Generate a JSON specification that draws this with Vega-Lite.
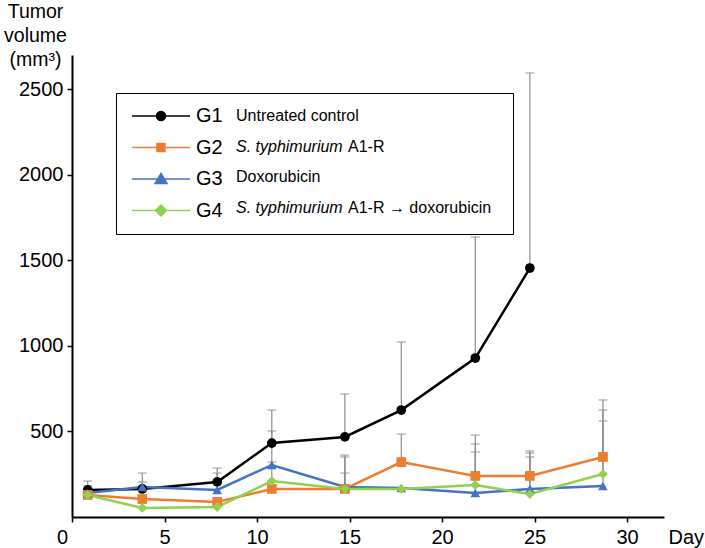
{
  "$schema": "https://vega.github.io/schema/vega-lite/v6.json",
  "autosize": "none",
  "width": 592,
  "height": 462,
  "padding": {"left": 72, "top": 55, "right": 41, "bottom": 31},
  "config": {
    "view": {"stroke": null},
    "font": "Liberation Sans",
    "axis": {
      "grid": false,
      "domainColor": "#000000",
      "domainWidth": 2,
      "tickColor": "#000000",
      "tickWidth": 1.5,
      "tickSize": 5,
      "labelFontSize": 20,
      "labelColor": "#000000",
      "titleColor": "#000000",
      "titleFontWeight": "normal"
    },
    "legend": {"labelColor": "#000000", "labelFont": "Liberation Sans"}
  },
  "resolve": {"legend": {"color": "independent"}},
  "datasets": {
    "tumor": [
      {"day": 0.85, "group": "G1", "vol": 158, "top": 210},
      {"day": 3.8, "group": "G1", "vol": 164, "top": 205},
      {"day": 7.85, "group": "G1", "vol": 205, "top": 286},
      {"day": 10.8, "group": "G1", "vol": 432, "top": 625},
      {"day": 14.75, "group": "G1", "vol": 468, "top": 719},
      {"day": 17.8, "group": "G1", "vol": 625, "top": 1023},
      {"day": 21.8, "group": "G1", "vol": 929, "top": 1636},
      {"day": 24.75, "group": "G1", "vol": 1455, "top": 2595},
      {"day": 0.85, "group": "G2", "vol": 129, "top": null},
      {"day": 3.8, "group": "G2", "vol": 105, "top": null},
      {"day": 7.85, "group": "G2", "vol": 88, "top": null},
      {"day": 10.8, "group": "G2", "vol": 164, "top": null},
      {"day": 14.75, "group": "G2", "vol": 164, "top": 362},
      {"day": 17.8, "group": "G2", "vol": 321, "top": 485},
      {"day": 21.8, "group": "G2", "vol": 240, "top": 479},
      {"day": 24.75, "group": "G2", "vol": 240, "top": 386},
      {"day": 28.7, "group": "G2", "vol": 351, "top": 684},
      {"day": 0.85, "group": "G3", "vol": 140, "top": 181},
      {"day": 3.8, "group": "G3", "vol": 175, "top": 257},
      {"day": 7.85, "group": "G3", "vol": 158, "top": 257},
      {"day": 10.8, "group": "G3", "vol": 304, "top": 321},
      {"day": 14.75, "group": "G3", "vol": 175, "top": 351},
      {"day": 17.8, "group": "G3", "vol": 169, "top": null},
      {"day": 21.8, "group": "G3", "vol": 140, "top": 380},
      {"day": 24.75, "group": "G3", "vol": 164, "top": 374},
      {"day": 28.7, "group": "G3", "vol": 181, "top": 561},
      {"day": 0.85, "group": "G4", "vol": 129, "top": null},
      {"day": 3.8, "group": "G4", "vol": 53, "top": null},
      {"day": 7.85, "group": "G4", "vol": 58, "top": null},
      {"day": 10.8, "group": "G4", "vol": 210, "top": 503},
      {"day": 14.75, "group": "G4", "vol": 164, "top": 257},
      {"day": 17.8, "group": "G4", "vol": 164, "top": null},
      {"day": 21.8, "group": "G4", "vol": 187, "top": 427},
      {"day": 24.75, "group": "G4", "vol": 134, "top": 351},
      {"day": 28.7, "group": "G4", "vol": 251, "top": 625}
    ],
    "legendKeys": [
      {"d": "D1", "s": "S1"},
      {"d": "D2", "s": "S2"},
      {"d": "D3", "s": "S3"},
      {"d": "D4", "s": "S4"}
    ]
  },
  "encoding": {
    "x": {
      "field": "day",
      "type": "quantitative",
      "scale": {"domain": [0, 32], "nice": false, "zero": false},
      "axis": {
        "values": [0, 5, 10, 15, 20, 25, 30],
        "labelFlush": false,
        "labelPadding": 5,
        "labelOffset": {"condition": {"test": "datum.value == 0", "value": -10}, "value": 0},
        "title": "Day",
        "titleFontSize": 20,
        "titleAlign": "left",
        "titleBaseline": "alphabetic",
        "titleAnchor": "start",
        "titleX": 596,
        "titleY": 26
      }
    },
    "y": {
      "field": "vol",
      "type": "quantitative",
      "scale": {"domain": [0, 2700], "nice": false},
      "axis": {
        "values": [500, 1000, 1500, 2000, 2500],
        "format": "d",
        "labelPadding": 4,
        "title": ["Tumor", "volume", "(mm³)"],
        "titleAngle": 0,
        "titleAlign": "center",
        "titleBaseline": "alphabetic",
        "titleFontSize": 19.5,
        "titleLineHeight": 24,
        "titleX": -37,
        "titleY": -38
      }
    }
  },
  "layer": [
    {
      "data": {"name": "tumor"},
      "transform": [{"filter": "datum.top != null"}],
      "mark": {"type": "rule", "color": "#8c8c8c", "strokeWidth": 1.2},
      "encoding": {"y2": {"field": "top"}}
    },
    {
      "data": {"name": "tumor"},
      "transform": [{"filter": "datum.top != null"}],
      "mark": {"type": "tick", "orient": "horizontal", "color": "#8c8c8c", "size": 9, "thickness": 1.3},
      "encoding": {"y": {"field": "top", "type": "quantitative"}}
    },
    {
      "data": {"name": "tumor"},
      "mark": {"type": "line", "strokeWidth": 2.5},
      "encoding": {
        "color": {
          "field": "group",
          "type": "nominal",
          "scale": {"domain": ["G1", "G2", "G3", "G4"], "range": ["#000000", "#ED7D31", "#4472C4", "#92D050"]},
          "legend": null
        }
      }
    },
    {
      "data": {"name": "tumor"},
      "mark": {"type": "point", "filled": true, "opacity": 1, "size": 95, "strokeWidth": 0},
      "encoding": {
        "color": {
          "field": "group",
          "type": "nominal",
          "scale": {"domain": ["G1", "G2", "G3", "G4"], "range": ["#000000", "#ED7D31", "#4472C4", "#92D050"]},
          "legend": {
            "title": null,
            "orient": "none",
            "legendX": 44,
            "legendY": 38,
            "padding": 13,
            "strokeColor": "#000000",
            "rowPadding": 11.5,
            "symbolSize": 100,
            "symbolStrokeWidth": 1.5,
            "symbolOffset": 22,
            "labelOffset": 25,
            "labelFontSize": 20,
            "labelLimit": 400,
            "symbolStrokeColor": {"expr": "scale('color', datum.value)"},
            "symbolType": {"expr": "datum.value === 'G1' ? 'M-5.8,0H5.8M-0.9,0A0.9,0.9,0,1,0,0.9,0A0.9,0.9,0,1,0,-0.9,0ZM67.2,0' : datum.value === 'G2' ? 'M-5.8,0H5.8M-0.8,-0.8H0.8V0.8H-0.8ZM67.2,0' : datum.value === 'G3' ? 'M-5.8,0H5.8M0,-1.1L1.2,0.9H-1.2ZM67.2,0' : 'M-5.8,0H5.8M0,-1.1L1.1,0L0,1.1L-1.1,0ZM67.2,0'"}
          }
        },
        "shape": {
          "field": "group",
          "type": "nominal",
          "scale": {"domain": ["G1", "G2", "G3", "G4"], "range": ["circle", "square", "triangle-up", "diamond"]},
          "legend": null
        }
      }
    },
    {
      "data": {"name": "legendKeys"},
      "mark": {"type": "point", "filled": true, "opacity": 0},
      "encoding": {
        "x": {"datum": 16},
        "y": {"datum": 1350},
        "fill": {
          "field": "d",
          "type": "nominal",
          "scale": {"domain": ["D1", "D2", "D3", "D4"], "range": ["#000000", "#000000", "#000000", "#000000"]},
          "legend": {
            "title": null,
            "orient": "none",
            "legendX": 144,
            "legendY": 51,
            "padding": 0,
            "rowPadding": 11.5,
            "symbolSize": 324,
            "symbolStrokeWidth": 2,
            "symbolOpacity": 0,
            "labelOffset": 0,
            "labelFontSize": 16,
            "labelLimit": 300,
            "labelFontStyle": {"expr": "datum.value === 'D2' || datum.value === 'D4' ? 'italic' : 'normal'"},
            "labelExpr": "datum.value === 'D1' ? 'Untreated control' : datum.value === 'D3' ? 'Doxorubicin' : 'S. typhimurium'"
          }
        },
        "stroke": {
          "field": "s",
          "type": "nominal",
          "scale": {"domain": ["S1", "S2", "S3", "S4"], "range": ["#000000", "#000000", "#000000", "#000000"]},
          "legend": {
            "title": null,
            "orient": "none",
            "legendX": 256,
            "legendY": 51,
            "padding": 0,
            "rowPadding": 11.5,
            "symbolSize": 324,
            "symbolStrokeWidth": 2,
            "symbolOpacity": 0,
            "labelOffset": 0,
            "labelFontSize": 16,
            "labelLimit": 300,
            "labelExpr": "datum.value === 'S2' ? 'A1-R' : datum.value === 'S4' ? 'A1-R → doxorubicin' : ''"
          }
        }
      }
    }
  ]
}
